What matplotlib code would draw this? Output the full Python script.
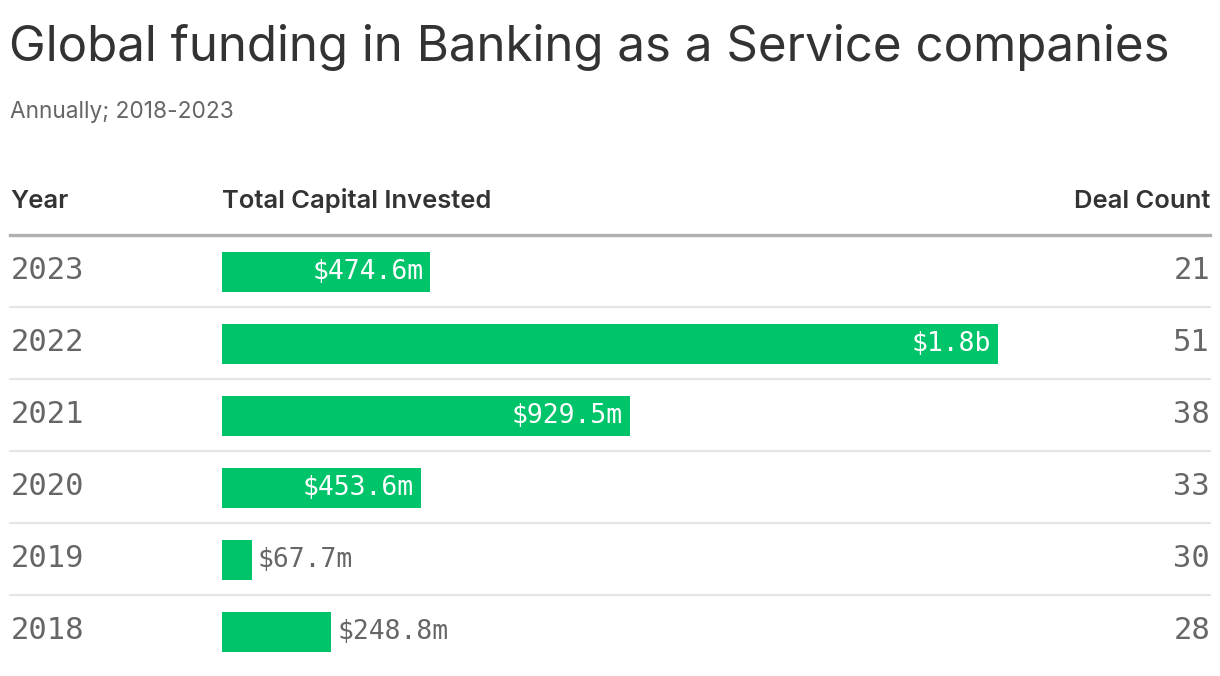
import matplotlib
matplotlib.use("Agg")
import matplotlib.pyplot as plt
import matplotlib.transforms as mtransforms

# ---- data ----
years = ["2023", "2022", "2021", "2020", "2019", "2018"]
capital_m = [474.6, 1768.0, 929.5, 453.6, 67.7, 248.8]
capital_labels = ["$474.6m", "$1.8b", "$929.5m", "$453.6m", "$67.7m", "$248.8m"]
deal_counts = [21, 51, 38, 33, 30, 28]
label_inside = [True, True, True, True, False, False]

title = "Global funding in Banking as a Service companies"
subtitle = "Annually; 2018-2023"
headers = ["Year", "Total Capital Invested", "Deal Count"]

W, H = 1220, 676
GREEN = "#00c46a"
DARK = "#333333"
GRAY = "#666666"
SANS = ["Inter", "DejaVu Sans"]
MONO = ["DejaVu Sans Mono"]

fig = plt.figure(figsize=(W / 100, H / 100), dpi=100)
fig.patch.set_facecolor("white")


def fx(px):
    return px / W


def fy(py):
    return 1 - py / H


# axes for bar area: x 222..1210 px, y 236..668 px
ax_left, ax_right, ax_top, ax_bottom = 222, 1210, 236, 668
ax = fig.add_axes([fx(ax_left), fy(ax_bottom), fx(ax_right - ax_left), (ax_bottom - ax_top) / H])
px_per_m = (630 - 222) / 929.5
ax.set_xlim(0, (ax_right - ax_left) / px_per_m)
n = len(years)
ax.set_ylim(n, 0)
ax.axis("off")

ypos = [i + 0.5 for i in range(n)]
ax.barh(ypos, capital_m, height=40 / 72, left=0, color=GREEN, zorder=2)

pad = 7 / px_per_m
for y, v, lab, inside in zip(ypos, capital_m, capital_labels, label_inside):
    if inside:
        ax.text(v - pad, y, lab, ha="right", va="center", color="white",
                fontsize=19, family=MONO, zorder=3)
    else:
        ax.text(v + 6 / px_per_m, y, lab, ha="left", va="center", color=GRAY,
                fontsize=19, family=MONO, zorder=3)

blend = mtransforms.blended_transform_factory(fig.transFigure, ax.transData)

for y, yr, dc in zip(ypos, years, deal_counts):
    ax.text(fx(11), y - 0.02, yr, transform=blend, ha="left", va="center",
            color=GRAY, fontsize=22, family=MONO, clip_on=False)
    ax.text(fx(1210), y - 0.02, str(dc), transform=blend, ha="right", va="center",
            color=GRAY, fontsize=22, family=MONO, clip_on=False)

# row separators
for k in range(1, n):
    ax.plot([fx(10), fx(1210)], [k - 0.015, k - 0.015], transform=blend,
            color="#e5e5e5", lw=1.6, clip_on=False, zorder=1)

# header line
fig.add_artist(plt.Line2D([fx(10), fx(1210)], [fy(234.5), fy(234.5)],
                          color="#b0b0b0", lw=2.4))

# headers
fig.text(fx(10), fy(208), headers[0], ha="left", va="baseline", color=DARK,
         fontsize=18.4, fontweight="semibold", family=SANS)
fig.text(fx(222), fy(208), headers[1], ha="left", va="baseline", color=DARK,
         fontsize=18.4, fontweight="semibold", family=SANS)
fig.text(fx(1210), fy(208), headers[2], ha="right", va="baseline", color=DARK,
         fontsize=18.4, fontweight="semibold", family=SANS)

# title & subtitle
fig.text(fx(9), fy(61), title, ha="left", va="baseline", color=DARK,
         fontsize=35.5, family=SANS)
fig.text(fx(10), fy(118), subtitle, ha="left", va="baseline", color=GRAY,
         fontsize=16.3, family=SANS)

fig.savefig("out.png", dpi=100, facecolor="white")
